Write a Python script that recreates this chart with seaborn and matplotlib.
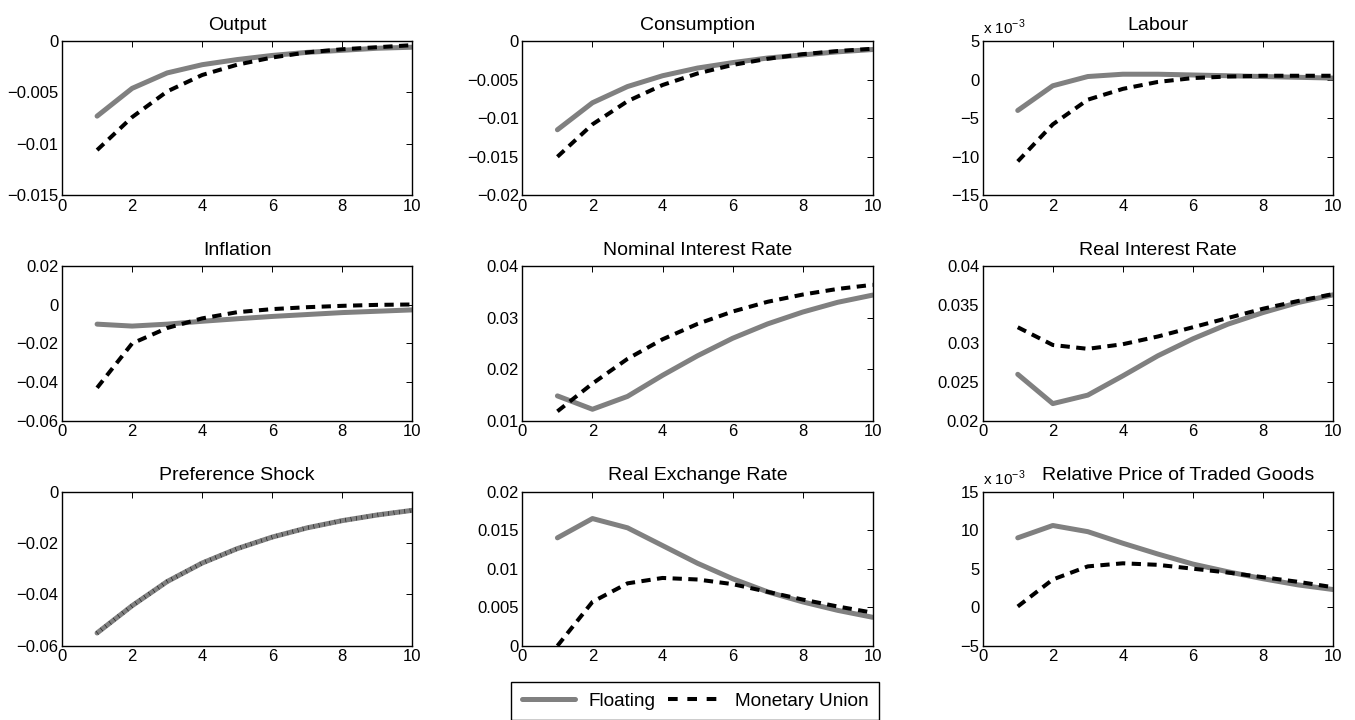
import numpy as np
import matplotlib
matplotlib.use("Agg")
import matplotlib.pyplot as plt
import seaborn as sns
from matplotlib.ticker import FuncFormatter, MultipleLocator
from matplotlib.lines import Line2D

# horizon
periods = [1, 2, 3, 4, 5, 6, 7, 8, 9, 10]

# impulse responses: floating vs monetary union
output_float = [-0.0073, -0.0046, -0.0031, -0.0023, -0.0018, -0.0014, -0.0011, -0.0009, -0.0007, -0.0006]
output_mu = [-0.0106, -0.0074, -0.0049, -0.0033, -0.0023, -0.0016, -0.0011, -0.0008, -0.0006, -0.0004]

cons_float = [-0.0115, -0.0080, -0.0059, -0.0045, -0.0035, -0.0028, -0.0022, -0.0018, -0.0014, -0.0011]
cons_mu = [-0.0150, -0.0108, -0.0078, -0.0057, -0.0042, -0.0031, -0.0023, -0.0017, -0.0013, -0.0010]

labour_float = [-0.0040, -0.0008, 0.0004, 0.0007, 0.0007, 0.0006, 0.0005, 0.0004, 0.0003, 0.0002]
labour_mu = [-0.0106, -0.0058, -0.0026, -0.0012, -0.0003, 0.0002, 0.0004, 0.0005, 0.0005, 0.0005]

infl_float = [-0.0100, -0.0110, -0.0100, -0.0085, -0.0072, -0.0060, -0.0050, -0.0040, -0.0033, -0.0026]
infl_mu = [-0.0430, -0.0200, -0.0120, -0.0070, -0.0038, -0.0022, -0.0012, -0.0005, 0.0000, 0.0002]

nom_float = [0.0148, 0.0122, 0.0147, 0.0188, 0.0226, 0.0260, 0.0288, 0.0311, 0.0330, 0.0344]
nom_mu = [0.0118, 0.0172, 0.0220, 0.0258, 0.0288, 0.0312, 0.0331, 0.0345, 0.0356, 0.0364]

real_float = [0.0260, 0.0222, 0.0233, 0.0258, 0.0284, 0.0306, 0.0325, 0.0340, 0.0353, 0.0363]
real_mu = [0.0321, 0.0298, 0.0293, 0.0299, 0.0309, 0.0321, 0.0333, 0.0345, 0.0355, 0.0364]

pref_float = [-0.0550, -0.0444, -0.0350, -0.0278, -0.0222, -0.0177, -0.0141, -0.0113, -0.0091, -0.0073]
pref_mu = [-0.0550, -0.0444, -0.0350, -0.0278, -0.0222, -0.0177, -0.0141, -0.0113, -0.0091, -0.0073]

rer_float = [0.0140, 0.0165, 0.0153, 0.0130, 0.0107, 0.0087, 0.0070, 0.0057, 0.0046, 0.0037]
rer_mu = [0.0000, 0.0057, 0.0081, 0.0088, 0.0086, 0.0080, 0.0070, 0.0060, 0.0051, 0.0043]

rptg_float = [0.0090, 0.0106, 0.0098, 0.0083, 0.0069, 0.0056, 0.0046, 0.0037, 0.0029, 0.0023]
rptg_mu = [0.0001, 0.0036, 0.0053, 0.0057, 0.0055, 0.0050, 0.0045, 0.0039, 0.0033, 0.0026]

titles = ["Output", "Consumption", "Labour",
          "Inflation", "Nominal Interest Rate", "Real Interest Rate",
          "Preference Shock", "Real Exchange Rate", "Relative Price of Traded Goods"]
series = [(output_float, output_mu), (cons_float, cons_mu), (labour_float, labour_mu),
          (infl_float, infl_mu), (nom_float, nom_mu), (real_float, real_mu),
          (pref_float, pref_mu), (rer_float, rer_mu), (rptg_float, rptg_mu)]
ylims = [(-0.015, 0), (-0.02, 0), (-0.015, 0.005),
         (-0.06, 0.02), (0.01, 0.04), (0.02, 0.04),
         (-0.06, 0), (0, 0.02), (-0.005, 0.015)]
ysteps = [0.005, 0.005, 0.005, 0.02, 0.01, 0.005, 0.02, 0.005, 0.005]
scaled = [False, False, True, False, False, False, False, False, True]

sns.set_style("white")
plt.rcParams['font.family'] = ['Liberation Sans', 'DejaVu Sans']
plt.rcParams['axes.unicode_minus'] = True
plt.rcParams['text.color'] = 'black'

gray = '#808080'
dash = (0, (2.3, 1.6))


def fmt_plain(v, p):
    v = round(v, 6)
    if v == 0:
        return "0"
    return f"{v:g}".replace('-', '\u2212')


def fmt_milli(v, p):
    v = round(v * 1000, 4)
    if v == 0:
        return "0"
    return f"{v:g}".replace('-', '\u2212')


fig, axes = plt.subplots(3, 3, figsize=(13.55, 7.2), dpi=100)
fig.subplots_adjust(left=0.0458, right=0.9838, top=0.943, bottom=0.103,
                    wspace=0.314, hspace=0.46)

for i, ax in enumerate(axes.flat):
    fl, mu = series[i]
    if i == 6:
        sns.lineplot(x=periods, y=fl, ax=ax, color=gray, linewidth=3.6)
        sns.lineplot(x=periods, y=mu, ax=ax, color='black', linewidth=3.2,
                     linestyle=(0, (0.12, 1.1)), alpha=0.9)
    else:
        sns.lineplot(x=periods, y=fl, ax=ax, color=gray, linewidth=3.6)
        sns.lineplot(x=periods, y=mu, ax=ax, color='black', linewidth=2.9,
                     linestyle=dash)
    ax.set_xlim(0, 10)
    ax.set_ylim(*ylims[i])
    ax.xaxis.set_major_locator(MultipleLocator(2))
    ax.yaxis.set_major_locator(MultipleLocator(ysteps[i]))
    ax.yaxis.set_major_formatter(FuncFormatter(fmt_milli if scaled[i] else fmt_plain))
    ax.tick_params(direction='in', length=4, width=0.7, labelsize=12,
                   top=True, right=True, pad=2.5, colors='black')
    for sp in ax.spines.values():
        sp.set_visible(True)
        sp.set_color('black')
        sp.set_linewidth(1.0)
    # the exponent label pushes the long title a little to the right
    tx = 0.557 if i == 8 else 0.5
    ax.set_title(titles[i], fontsize=14, pad=8, color='black', x=tx)
    ax.set_xlabel("")
    ax.set_ylabel("")
    if scaled[i]:
        ax.text(0.0, 1.025, "x 10$^{\\mathregular{-3}}$", transform=ax.transAxes,
                fontsize=11, ha='left', va='bottom', color='black')

handles = [Line2D([0], [0], color=gray, linewidth=3.6),
           Line2D([0], [0], color='black', linewidth=2.9, linestyle=(0, (2.4, 2.4)))]
leg = fig.legend(handles, ["Floating", "Monetary Union"], loc='lower center',
                 bbox_to_anchor=(0.513, 0.0), ncol=2, fontsize=13.7, frameon=True,
                 fancybox=False, edgecolor='black', framealpha=1,
                 handlelength=2.8, handletextpad=0.7, columnspacing=0.7,
                 borderpad=0.55, borderaxespad=0.0)
leg.get_frame().set_linewidth(1.0)

fig.savefig("out.png", dpi=100)
